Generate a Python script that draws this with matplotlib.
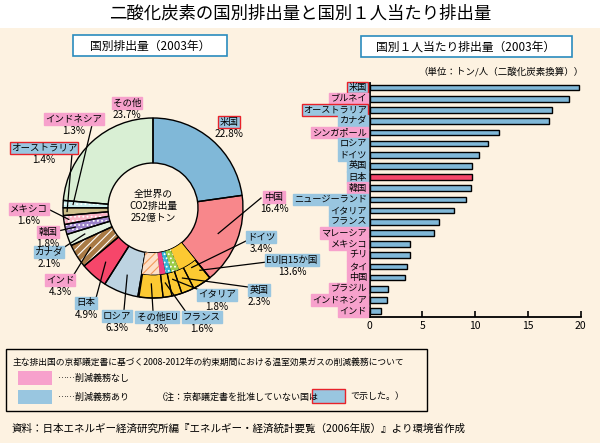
import numpy as np
import matplotlib
matplotlib.use('Agg')
import matplotlib.pyplot as plt
from matplotlib.patches import Rectangle

plt.rcParams['font.family'] = ['Noto Sans CJK JP', 'DejaVu Sans']
plt.rcParams['hatch.linewidth'] = 0.8

BG = '#fdf2e1'
PINK = '#f7a1cc'
BLUE = '#99c6e0'
REDEDGE = '#e8222a'

# 国別排出量 (2003年, %)
pie_names = ['米国', '中国', 'EU旧15か国', 'ロシア', '日本', 'インド', 'カナダ',
             '韓国', 'メキシコ', 'オーストラリア', 'インドネシア', 'その他']
pie_shares = [22.8, 16.4, 13.6, 6.3, 4.9, 4.3, 2.1, 1.8, 1.6, 1.4, 1.3, 23.7]
pie_colors = ['#80b8d8', '#f8878b', '#fcc932', '#bdd3e1', '#f6466a', '#a97a45',
              '#e4f3e0', '#9a82c8', '#f9b3c4', '#cfc08c', '#c9ecec', '#d9efd4']
pie_hatches = ['', '', '', '', '', '////', '', '....', '....', '', '....', '']

# EU旧15か国の内訳
eu_names = ['ドイツ', '英国', 'イタリア', 'フランス', 'その他EU']
eu_shares = [3.4, 2.3, 1.8, 1.6, 4.3]
eu_inner = [4.5, 2.0, 1.4, 1.4, 4.3]
eu_inner_colors = ['#fcc932', '#9ccc4a', '#33b4d6', '#ee3f7f', '#fde0c8']
eu_inner_hatches = ['', '....', '....', '', '////']
eu_inner_hcolors = ['#fcc932', 'white', 'white', '#ee3f7f', '#f39a5b']

# 削減義務 (True = あり)
pie_duty = {'米国': True, '中国': False, 'EU旧15か国': True, 'ロシア': True, '日本': True,
            'インド': False, 'カナダ': True, '韓国': False, 'メキシコ': False,
            'オーストラリア': True, 'インドネシア': False, 'その他': False,
            'ドイツ': True, '英国': True, 'イタリア': True, 'フランス': True, 'その他EU': True}
not_ratified = ['米国', 'オーストラリア']

# 国別１人当たり排出量 (トン/人)
per_names = ['米国', 'ブルネイ', 'オーストラリア', 'カナダ', 'シンガポール', 'ロシア', 'ドイツ',
             '英国', '日本', '韓国', 'ニュージーランド', 'イタリア', 'フランス', 'マレーシア',
             'メキシコ', 'チリ', 'タイ', '中国', 'ブラジル', 'インドネシア', 'インド']
per_values = [19.8, 18.9, 17.3, 17.0, 12.3, 11.2, 10.35, 9.65, 9.65, 9.6, 9.1, 8.0,
              6.6, 6.05, 3.85, 3.85, 3.5, 3.3, 1.75, 1.6, 1.05]
per_duty = [True, False, True, True, False, True, True, True, True, False, True, True,
            True, False, False, False, False, False, False, False, False]

W, H = 600, 443
fig = plt.figure(figsize=(6, 4.43), dpi=100)
fig.patch.set_facecolor(BG)

# background layer
bg = fig.add_axes([0, 0, 1, 1], zorder=0)
bg.set_xlim(0, W)
bg.set_ylim(H, 0)
bg.axis('off')
bg.add_patch(Rectangle((0, 0), W, 28, facecolor='white', edgecolor='none'))

# ---- pie ----
cx, cy, R = 153, 208, 90
pax = fig.add_axes([(cx - 100) / W, (H - cy - 100) / H, 200 / W, 200 / H], zorder=1)
pax.patch.set_alpha(0)
wedges, _ = pax.pie(pie_shares, colors=pie_colors, startangle=90, counterclock=False,
                    radius=R, wedgeprops=dict(width=R / 2, linewidth=0, edgecolor='none'))
for w, h in zip(wedges, pie_hatches):
    if h:
        w.set_hatch(h)
        w.set_edgecolor('white')
        w.set_linewidth(0)

# EU inner band
total = sum(pie_shares)
eu_start = sum(pie_shares[:2])
rest = total - eu_start - sum(eu_inner)
inner_vals = [eu_start] + eu_inner + [rest]
inner_cols = ['none'] + eu_inner_colors + ['none']
iw, _ = pax.pie(inner_vals, colors=inner_cols, startangle=90, counterclock=False,
                radius=R * 0.74, wedgeprops=dict(width=R * 0.24, linewidth=0))
for w, h, hc in zip(iw[1:-1], eu_inner_hatches, eu_inner_hcolors):
    w.set_hatch(h)
    w.set_edgecolor(hc)
    w.set_linewidth(0)
for w in iw[1:-1]:
    w.set_zorder(2)
iwo, _ = pax.pie(inner_vals, colors=['none'] * len(inner_vals), startangle=90,
                 counterclock=False, radius=R * 0.74,
                 wedgeprops=dict(width=R * 0.24, linewidth=0.9, edgecolor='black'))
iwo[0].set_visible(False)
iwo[-1].set_visible(False)

# EU outer divisions
rest2 = total - eu_start - sum(eu_shares)
outer_vals = [eu_start] + eu_shares + [rest2]
ow, _ = pax.pie(outer_vals, colors=['none'] * len(outer_vals), startangle=90,
                counterclock=False, radius=R,
                wedgeprops=dict(width=R * 0.26, linewidth=0.9, edgecolor='black'))
ow[0].set_visible(False)
ow[-1].set_visible(False)

# outlines
pax.pie(pie_shares, colors=['none'] * len(pie_shares), startangle=90, counterclock=False,
        radius=R, wedgeprops=dict(width=R / 2, linewidth=1.0, edgecolor='black'))
pax.set_aspect('equal')
pax.set_xlim(-100, 100)
pax.set_ylim(-100, 100)
pax.axis('off')

# ---- bars ----
bx0, bx1 = 369.7, 580.7
by_top, by_bot = 83, 316.7
bax = fig.add_axes([bx0 / W, (H - by_bot) / H, (bx1 - bx0) / W, (by_bot - by_top) / H], zorder=1)
bax.patch.set_alpha(0)
ypos = np.arange(len(per_names))
bar_cols = ['#f6466a' if n == '日本' else '#80b8d8' for n in per_names]
bax.barh(ypos, per_values, height=0.5, color=bar_cols, edgecolor='black', linewidth=1.0)
bax.set_xlim(0, 20)
bax.set_ylim(20.5, -0.42)
bax.set_xticks([0, 5, 10, 15, 20])
bax.set_yticks([])
bax.tick_params(axis='x', direction='in', length=4, width=1.2, labelsize=7.5, pad=3)
for s in ['top', 'right']:
    bax.spines[s].set_visible(False)
for s in ['left', 'bottom']:
    bax.spines[s].set_linewidth(1.3)

# ---- overlay texts ----
ov = fig.add_axes([0, 0, 1, 1], zorder=5)
ov.set_xlim(0, W)
ov.set_ylim(H, 0)
ov.axis('off')
ov.patch.set_alpha(0)

ov.text(300, 14, '二酸化炭素の国別排出量と国別１人当たり排出量', ha='center', va='center',
        fontsize=12.5)
ov.add_patch(Rectangle((73, 35), 154, 21, facecolor='white', edgecolor='#2a8bbd', lw=1.2))
ov.text(150, 46, '国別排出量（2003年）', ha='center', va='center', fontsize=8.5)
ov.add_patch(Rectangle((361, 36), 211, 21, facecolor='white', edgecolor='#2a8bbd', lw=1.2))
ov.text(466, 47, '国別１人当たり排出量（2003年）', ha='center', va='center', fontsize=8.5)
ov.text(584, 72, '（単位：トン/人（二酸化炭素換算））', ha='right', va='center', fontsize=6.8)

ov.text(cx, 206, '全世界の\nCO2排出量\n252億トン', ha='center', va='center',
        fontsize=7, linespacing=1.25)


def ring_point(cum_mid, r):
    th = np.deg2rad(360.0 * cum_mid / total)
    return cx + r * np.sin(th), cy - r * np.cos(th)


cum = np.cumsum([0] + pie_shares)
mids = {n: (cum[i] + cum[i + 1]) / 2 for i, n in enumerate(pie_names)}
ecum = np.cumsum([eu_start] + eu_shares)
for i, n in enumerate(eu_names):
    mids[n] = (ecum[i] + ecum[i + 1]) / 2
mids['EU旧15か国'] = eu_start + 0.6

pct = dict(zip(pie_names, pie_shares))
pct.update(dict(zip(eu_names, eu_shares)))

# label centre, leader start, leader radius
label_layout = {
    'その他': ((127, 103), None, 0),
    '米国': ((229, 122), None, 0),
    'インドネシア': ((74, 119), (92, 125), 80),
    'オーストラリア': ((44, 148), (72, 154), 86),
    '中国': ((274, 197), (261, 198), 70),
    'ドイツ': ((261, 237), (246, 241), 71),
    'EU旧15か国': ((292, 260), (267, 262), 78),
    '英国': ((259, 290), (248, 287), 76),
    'イタリア': ((217, 295), (202, 291), 74),
    'フランス': ((202, 317), (186, 312), 76),
    'その他EU': ((157, 317), (153, 311), 76),
    'ロシア': ((117, 316), (124, 310), 72),
    '日本': ((86, 303), (96, 298), 72),
    'インド': ((60, 280), (73, 276), 74),
    'カナダ': ((49, 252), (63, 248), 73),
    '韓国': ((48, 232), (58, 231), 80),
    'メキシコ': ((29, 209), (48, 209), 85),
}

for n, ((tx, ty), lstart, lr) in label_layout.items():
    fc = BLUE if pie_duty[n] else PINK
    ec = REDEDGE if n in not_ratified else fc
    ov.text(tx, ty, n, ha='center', va='center', fontsize=6.8,
            bbox=dict(boxstyle='square,pad=0.12', facecolor=fc, edgecolor=ec, lw=1.0))
    ov.text(tx, ty + 12, f'{pct[n]}%', ha='center', va='center', fontsize=7.2)
    if lstart is not None:
        ex, ey = ring_point(mids[n], lr)
        ov.plot([lstart[0], ex], [lstart[1], ey], color='black', lw=0.9)

# bar category labels
row_h = (by_bot - by_top) / 20.92
for i, (n, d) in enumerate(zip(per_names, per_duty)):
    y = by_top + (i + 0.42) * row_h
    fc = BLUE if d else PINK
    ec = REDEDGE if n in not_ratified else fc
    ov.text(367, y, n, ha='right', va='center', fontsize=6.6,
            bbox=dict(boxstyle='square,pad=0.14', facecolor=fc, edgecolor=ec, lw=1.0))

# legend box
ov.add_patch(Rectangle((6, 349), 421, 62, facecolor='none', edgecolor='black', lw=1.0))
ov.text(13, 362, '主な排出国の京都議定書に基づく2008-2012年の約束期間における温室効果ガスの削減義務について',
        ha='left', va='center', fontsize=6.3)
ov.add_patch(Rectangle((18, 371), 34, 14, facecolor=PINK, edgecolor='none'))
ov.text(57, 378, '……削減義務なし', ha='left', va='center', fontsize=6.5)
ov.add_patch(Rectangle((18, 390), 34, 14, facecolor=BLUE, edgecolor='none'))
ov.text(57, 397, '……削減義務あり', ha='left', va='center', fontsize=6.5)
ov.text(157, 397, '（注：京都議定書を批准していない国は', ha='left', va='center', fontsize=6.5)
ov.add_patch(Rectangle((312, 389), 33, 14, facecolor=BLUE, edgecolor=REDEDGE, lw=1.0))
ov.text(350, 397, 'で示した。）', ha='left', va='center', fontsize=6.5)

ov.text(12, 429, '資料：日本エネルギー経済研究所編『エネルギー・経済統計要覧（2006年版）』より環境省作成',
        ha='left', va='center', fontsize=7.6)

fig.savefig('out.png', dpi=100, facecolor=fig.get_facecolor())
